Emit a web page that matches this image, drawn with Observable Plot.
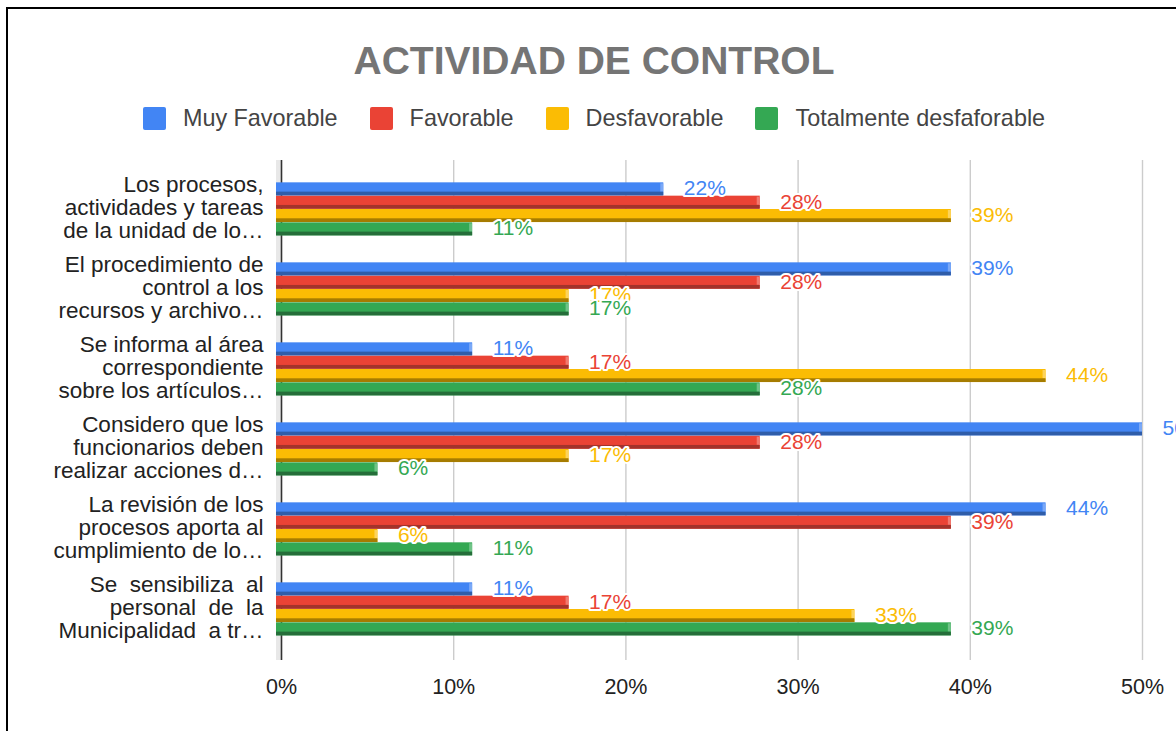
<!DOCTYPE html>
<html><head><meta charset="utf-8">
<script src="https://cdn.jsdelivr.net/npm/d3@7"></script>
<script src="https://cdn.jsdelivr.net/npm/@observablehq/plot@0.6"></script>
<style>
html,body{margin:0;padding:0;width:1176px;height:731px;overflow:hidden;background:#fff;font-family:"Liberation Sans",Arial,sans-serif;}
#frame{position:absolute;left:6px;top:7px;width:1400px;height:900px;border:2px solid #000;box-sizing:border-box;}
#title{position:absolute;left:0;top:38px;width:1188px;text-align:center;font-weight:bold;font-size:39px;color:#757575;line-height:46px;}
#legend{position:absolute;left:0;top:104px;width:1188px;display:flex;justify-content:center;gap:32px;font-size:23.4px;line-height:28px;color:#444;}
.item{display:flex;align-items:center;gap:17px}
.sw{width:23px;height:23px;border-radius:2px}
#chart{position:absolute;left:0;top:150px;}
#chart svg{display:block}
#chart svg text{white-space:pre}
</style></head>
<body>
<div id="frame"></div>
<div id="title">ACTIVIDAD DE CONTROL</div>
<div id="legend"></div>
<div id="chart"></div>
<script>
const questions = [
  "Los procesos,\nactividades y tareas\nde la unidad de lo…",
  "El procedimiento de\ncontrol a los\nrecursos y archivo…",
  "Se informa al área\ncorrespondiente\nsobre los artículos…",
  "Considero que los\nfuncionarios deben\nrealizar acciones d…",
  "La revisión de los\nprocesos aporta al\ncumplimiento de lo…",
  "Se  sensibiliza  al\npersonal  de  la\nMunicipalidad  a tr…"
];
const series = ["Muy Favorable", "Favorable", "Desfavorable", "Totalmente desfaforable"];
const colors = ["#4285F4", "#EA4335", "#FBBC04", "#34A853"];
const shades = ["#2F5DA9", "#A3332B", "#A67C00", "#256E3A"];
const highlights = ["#7AA8F7", "#F07A70", "#FDD35A", "#6FC387"];
const muyFavorable = [0.222, 0.389, 0.111, 0.500, 0.444, 0.111];
const favorable    = [0.278, 0.278, 0.167, 0.278, 0.389, 0.167];
const desfavorable = [0.389, 0.167, 0.444, 0.167, 0.056, 0.333];
const totalmente   = [0.111, 0.167, 0.278, 0.056, 0.111, 0.389];
const xTicks = [0, 0.1, 0.2, 0.3, 0.4, 0.5];

const seriesValues = [muyFavorable, favorable, desfavorable, totalmente];
const rows = [];
const domain = [];
questions.forEach((q, i) => {
  domain.push(`g${i}a`);
  seriesValues.forEach((vals, j) => {
    const key = `${i}|${j}`;
    domain.push(key);
    rows.push({q: i, s: j, key, value: vals[i], color: colors[j], shade: shades[j], hi: highlights[j]});
  });
  domain.push(`g${i}b`);
});

// legend
const legend = document.getElementById("legend");
series.forEach((s, j) => {
  const it = document.createElement("div");
  it.className = "item";
  it.innerHTML = `<div class="sw" style="background:${colors[j]}"></div><span>${s}</span>`;
  legend.appendChild(it);
});

const font = "Liberation Sans, Arial, sans-serif";
const chart = Plot.plot({
  width: 1176,
  height: 560,
  marginLeft: 281,
  marginRight: 34,
  marginTop: 19,
  marginBottom: 61,
  style: {fontFamily: font, background: "transparent", overflow: "hidden"},
  x: {domain: [0, 0.5], axis: null},
  y: {domain, axis: null, paddingInner: 0, paddingOuter: 0, round: false},
  color: {type: "identity"},
  marks: [
    Plot.ruleX([0], {dx: -3, stroke: "#e8e8e8", strokeWidth: 5, insetTop: -9, insetBottom: -11}),
    Plot.ruleX(xTicks.slice(1), {x: d => d, stroke: "#cccccc", strokeWidth: 1.4, insetTop: -9, insetBottom: -11}),
    Plot.ruleX([0], {stroke: "#333", strokeWidth: 1.6, insetTop: -9, insetBottom: -11}),
    Plot.barX(rows, {x1: d => 0, x2: "value", y: "key", fill: "color", insetLeft: -5, insetBottom: 0.3}),
    Plot.barX(rows, {x1: d => 0, x2: "value", y: "key", fill: "shade", insetLeft: -5, insetTop: 9.3, insetBottom: 0.3}),
    Plot.barX(rows, {x1: "value", x2: "value", y: "key", fill: "hi", insetLeft: -3, insetBottom: 4.3, insetTop: 1}),
    Plot.text(rows, {
      x: "value", y: "key", text: d => Math.round(d.value * 100) + "%",
      dx: 20, dy: -1, textAnchor: "start", fill: "color",
      stroke: "white", strokeWidth: 4, fontSize: 21, fontFamily: font
    }),
    Plot.text(questions.map((q, i) => i), {
      y: i => `${i}|1`, text: i => questions[i], frameAnchor: "left",
      dx: -18, dy: 4.7, textAnchor: "end", lineHeight: 1.035,
      fontSize: 22.5, fill: "#222", fontFamily: font
    }),
    Plot.text(xTicks, {
      x: d => d, text: d => Math.round(d * 100) + "%", frameAnchor: "bottom",
      lineAnchor: "middle", dy: 38, fontSize: 21.5, fill: "#222", fontFamily: font
    })
  ]
});
document.getElementById("chart").appendChild(chart);
</script>
</body></html>
